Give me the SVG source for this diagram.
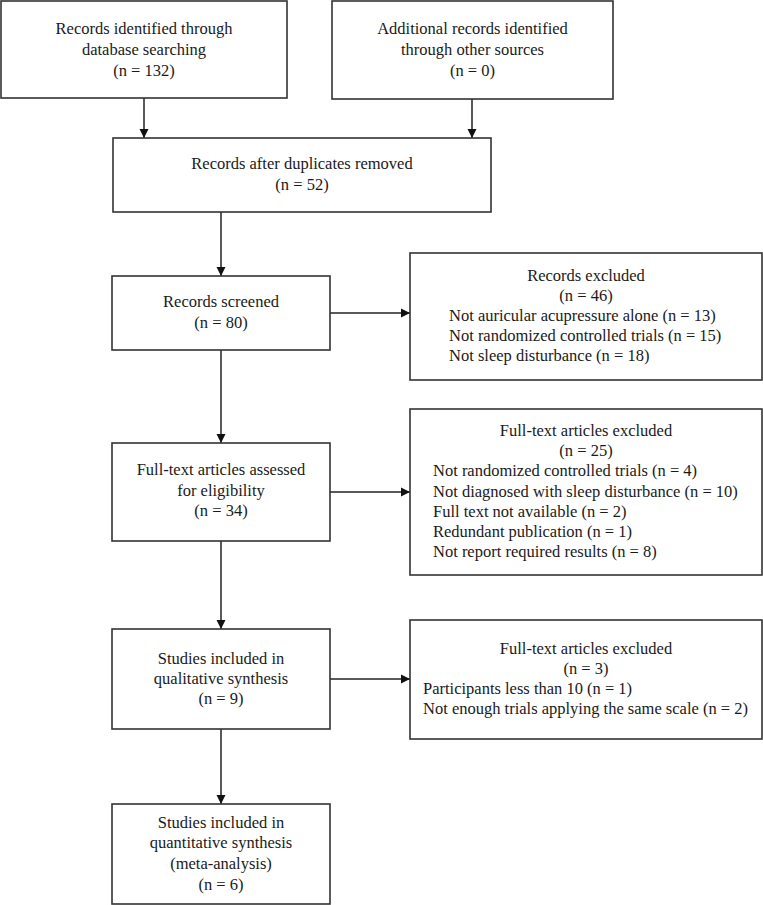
<svg xmlns="http://www.w3.org/2000/svg" width="763" height="905" viewBox="0 0 763 905">
<style>
  .box { fill: #ffffff; stroke: #333333; stroke-width: 1.6; }
  .t { font-family: "Liberation Serif", "Times New Roman", serif; font-size: 16.5px; fill: #1a1a1a; }
  .c { text-anchor: middle; }
  .l { text-anchor: start; }
  .conn { stroke: #222222; stroke-width: 1.5; fill: none; marker-end: url(#arrow); }
</style>
<defs>
  <marker id="arrow" markerUnits="userSpaceOnUse" markerWidth="10" markerHeight="10" refX="9" refY="5" orient="auto">
    <path d="M0,0.5 L9,5 L0,9.5 Z" fill="#111111"/>
  </marker>
</defs>
<rect width="763" height="905" fill="#ffffff"/>

<g id="connectors">
  <line class="conn" x1="144" y1="98" x2="144" y2="138"/>
  <line class="conn" x1="472" y1="99" x2="472" y2="138"/>
  <line class="conn" x1="221" y1="212" x2="221" y2="276"/>
  <line class="conn" x1="330" y1="313" x2="410" y2="313"/>
  <line class="conn" x1="221" y1="350" x2="221" y2="443"/>
  <line class="conn" x1="330" y1="492" x2="410" y2="492"/>
  <line class="conn" x1="221" y1="541" x2="221" y2="629"/>
  <line class="conn" x1="330" y1="679" x2="410" y2="679"/>
  <line class="conn" x1="221" y1="729" x2="221" y2="804"/>
</g>

<g id="node-identified-db">
  <rect class="box" x="1" y="1" width="286" height="97"/>
  <text class="t c" x="144" y="34">Records identified through</text>
  <text class="t c" x="144" y="55">database searching</text>
  <text class="t c" x="144" y="76">(n = 132)</text>
</g>

<g id="node-identified-other">
  <rect class="box" x="332" y="1" width="281" height="98"/>
  <text class="t c" x="472.5" y="34">Additional records identified</text>
  <text class="t c" x="472.5" y="55">through other sources</text>
  <text class="t c" x="472.5" y="76">(n = 0)</text>
</g>

<g id="node-duplicates">
  <rect class="box" x="113" y="138" width="378" height="74"/>
  <text class="t c" x="302" y="169">Records after duplicates removed</text>
  <text class="t c" x="302" y="190">(n = 52)</text>
</g>

<g id="node-screened">
  <rect class="box" x="112" y="276" width="218" height="74"/>
  <text class="t c" x="221" y="307">Records screened</text>
  <text class="t c" x="221" y="328">(n = 80)</text>
</g>

<g id="node-records-excluded">
  <rect class="box" x="410" y="253" width="352" height="127"/>
  <text class="t c" x="586" y="281">Records excluded</text>
  <text class="t c" x="586" y="301">(n = 46)</text>
  <text class="t l" x="449" y="321">Not auricular acupressure alone (n = 13)</text>
  <text class="t l" x="449" y="341">Not randomized controlled trials (n = 15)</text>
  <text class="t l" x="449" y="361">Not sleep disturbance (n = 18)</text>
</g>

<g id="node-fulltext-assessed">
  <rect class="box" x="112" y="443" width="218" height="98"/>
  <text class="t c" x="221" y="475">Full-text articles assessed</text>
  <text class="t c" x="221" y="496">for eligibility</text>
  <text class="t c" x="221" y="516">(n = 34)</text>
</g>

<g id="node-fulltext-excluded-25">
  <rect class="box" x="410" y="409" width="352" height="166"/>
  <text class="t c" x="586" y="436">Full-text articles excluded</text>
  <text class="t c" x="586" y="456">(n = 25)</text>
  <text class="t l" x="433" y="476">Not randomized controlled trials (n = 4)</text>
  <text class="t l" x="433" y="497">Not diagnosed with sleep disturbance (n = 10)</text>
  <text class="t l" x="433" y="517">Full text not available (n = 2)</text>
  <text class="t l" x="433" y="537">Redundant publication (n = 1)</text>
  <text class="t l" x="433" y="557">Not report required results (n = 8)</text>
</g>

<g id="node-qualitative">
  <rect class="box" x="112" y="629" width="218" height="100"/>
  <text class="t c" x="221" y="664">Studies included in</text>
  <text class="t c" x="221" y="684">qualitative synthesis</text>
  <text class="t c" x="221" y="704">(n = 9)</text>
</g>

<g id="node-fulltext-excluded-3">
  <rect class="box" x="410" y="620" width="352" height="119"/>
  <text class="t c" x="586" y="654">Full-text articles excluded</text>
  <text class="t c" x="586" y="674">(n = 3)</text>
  <text class="t l" x="423" y="694">Participants less than 10 (n = 1)</text>
  <text class="t l" x="423" y="714">Not enough trials applying the same scale (n = 2)</text>
</g>

<g id="node-quantitative">
  <rect class="box" x="112" y="804" width="218" height="100"/>
  <text class="t c" x="221" y="828">Studies included in</text>
  <text class="t c" x="221" y="848">quantitative synthesis</text>
  <text class="t c" x="221" y="869">(meta-analysis)</text>
  <text class="t c" x="221" y="890">(n = 6)</text>
</g>
</svg>
